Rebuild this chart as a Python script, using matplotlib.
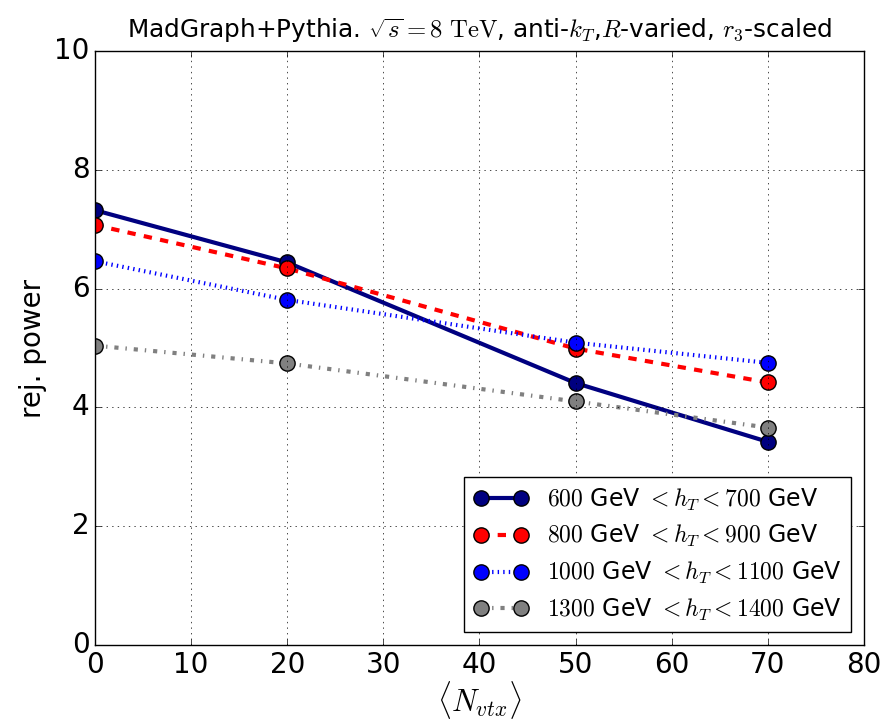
import numpy as np
import matplotlib
matplotlib.use('Agg')
import matplotlib.pyplot as plt

plt.style.use('classic')
plt.rcParams['mathtext.fontset'] = 'cm'

nvtx = [0, 20, 50, 70]
labels = ['$600$ GeV $<h_T<700$ GeV',
          '$800$ GeV $<h_T<900$ GeV',
          '$1000$ GeV $<h_T<1100$ GeV',
          '$1300$ GeV $<h_T<1400$ GeV']
rej_600 = [7.32, 6.44, 4.41, 3.42]
rej_800 = [7.07, 6.34, 4.99, 4.42]
rej_1000 = [6.46, 5.81, 5.09, 4.75]
rej_1300 = [5.04, 4.74, 4.10, 3.66]

series = [rej_600, rej_800, rej_1000, rej_1300]
colors = ['navy', 'red', 'blue', 'gray']
styles = ['-', '--', ':', '-.']

fig = plt.figure(figsize=(8.86, 7.21), dpi=100)
fig.patch.set_facecolor('white')
ax = fig.add_axes([95/886, 76/721, 769/886, 594/721])

for vals, c, ls, lab in zip(series, colors, styles, labels):
    ax.plot(nvtx, vals, color=c, linestyle=ls, linewidth=3, marker='o',
            markersize=11, markerfacecolor=c, markeredgecolor='black',
            markeredgewidth=1, label=lab)

ax.set_xlim(0, 80)
ax.set_ylim(0, 10)
ax.set_yticks([0, 2, 4, 6, 8, 10])
ax.grid(True)
ax.tick_params(labelsize=20)
ax.set_xlabel(r'$\langle N_{vtx}\rangle$', fontsize=22, labelpad=0)
ax.set_ylabel('rej. power', fontsize=20)
ax.set_title(r'MadGraph+Pythia. $\sqrt{s}=8\ \mathrm{TeV}$, anti-$k_T$,$R$-varied, $r_3$-scaled',
             fontsize=17.8, y=1.01)
ax.legend(loc='lower right', fontsize=17, numpoints=2, handlelength=2.3,
          labelspacing=0.45, borderaxespad=0.55)

fig.savefig('out.png', dpi=100, facecolor='white')
